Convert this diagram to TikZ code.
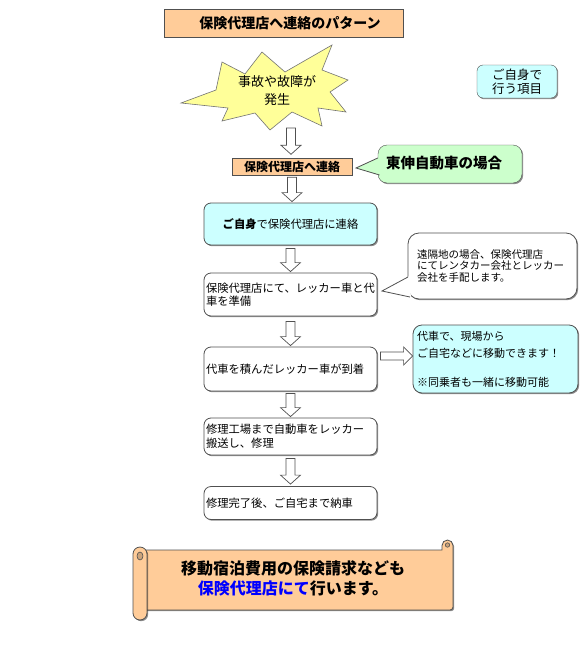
\documentclass[tikz,border=0pt]{standalone}
\usepackage{fontspec}
\setmainfont{Noto Sans CJK JP}
\usetikzlibrary{calc,shadows}
\definecolor{peach}{HTML}{FFCC99}
\definecolor{paleyellow}{HTML}{FFFF99}
\definecolor{lcyan}{HTML}{CCFFFF}
\definecolor{lgreen}{HTML}{CCFFCC}
\definecolor{edge}{HTML}{505050}
\definecolor{linkblue}{HTML}{0000FF}
\tikzset{
  shade1/.style={drop shadow={shadow xshift=1.2pt,shadow yshift=-1.2pt,fill=black,opacity=0.45}},
  flowbox/.style={draw=edge, line width=0.8pt, rounded corners=7pt, fill=white, shade1,
    inner xsep=2pt, inner ysep=0pt, text width=169pt, align=left,
    font=\fontsize{11.3}{13}\selectfont},
  downblock/.style={draw=edge, fill=white, line width=0.7pt, to path={
    let \p1=(\tikztostart), \p2=(\tikztotarget) in
    (\x1-4.5pt,\y1) -- (\x1+4.5pt,\y1) -- (\x1+4.5pt,\y2+9pt) -- (\x1+10pt,\y2+9pt)
    -- (\x1,\y2) -- (\x1-10pt,\y2+9pt) -- (\x1-4.5pt,\y2+9pt) -- cycle}},
  rightblock/.style={draw=edge, fill=white, line width=0.7pt, to path={
    let \p1=(\tikztostart), \p2=(\tikztotarget) in
    (\x1,\y1+4pt) -- (\x2-9pt,\y1+4pt) -- (\x2-9pt,\y1+9pt) -- (\x2,\y1)
    -- (\x2-9pt,\y1-9pt) -- (\x2-9pt,\y1-4pt) -- (\x1,\y1-4pt) -- cycle}},
}
\begin{document}
\begin{tikzpicture}[x=1pt,y=-1pt]
\useasboundingbox (0,0) rectangle (582,656);
\fill[white] (0,0) rectangle (582,656);

% title
\node[draw=edge, line width=0.9pt, fill=peach, shade1, minimum width=239pt, minimum height=28pt,
  inner sep=0pt] (title) at (283.5,23) {};
\node[font=\bfseries\fontsize{14}{16}\selectfont] (titletext) at (290,23) {保険代理店へ連絡のパターン};

% explosion
\filldraw[fill=paleyellow, draw=edge!80, line width=0.6pt]
  (181,103) -- (216,90) -- (222,62) -- (245,74) -- (262,52) -- (285,72) -- (332,45)
  -- (322,70) -- (348,80) -- (330,92) -- (346,112) -- (318,108) -- (322,126)
  -- (292,112) -- (270,130) -- (255,113) -- (222,121) -- (228,108) -- cycle;
\node[align=center, font=\fontsize{13}{18}\selectfont] (star) at (277,91) {事故や故障が\\発生};

% legend box
\node[draw=edge, fill=lcyan, rounded corners=6pt, shade1, minimum width=80pt, minimum height=33pt,
  align=center, inner sep=0pt, font=\fontsize{12.5}{14}\selectfont] (self) at (517,81.5) {ご自身で\\行う項目};

% small peach box
\node[draw=edge, fill=peach, shade1, minimum width=120pt, minimum height=17pt, inner sep=0pt,
  font=\bfseries\fontsize{12}{14}\selectfont] (s) at (292,166.5) {保険代理店へ連絡};

% green callout
\node[draw=edge, fill=lgreen, rounded corners=9pt, shade1, minimum width=144pt, minimum height=38pt] (g) at (450,164) {};
\fill[lgreen] (380,157) -- (356,168) -- (382,176) -- cycle;
\draw[edge, line width=0.8pt] (378,157.9) -- (356,168) -- (379.5,175);
\node[font=\bfseries\fontsize{14.5}{16}\selectfont] (gtext) at (444,163) {東伸自動車の場合};

% flow boxes
\node[flowbox, fill=lcyan, align=center, minimum height=42pt] (b1) at (290.5,224) {{\bfseries ご自身}で保険代理店に連絡};
\node[flowbox, minimum height=43pt, font=\fontsize{11.3}{12.5}\selectfont] (b2) at (290.5,294.5) {保険代理店にて、レッカー車と代\\車を準備};
\node[flowbox, minimum height=44pt] (b3) at (290.5,369) {代車を積んだレッカー車が到着};
\node[flowbox, minimum height=37pt, font=\fontsize{11.3}{14}\selectfont] (b4) at (290.5,436.5) {修理工場まで自動車をレッカー\\搬送し、修理};
\node[flowbox, minimum height=33pt] (b5) at (290.5,503) {修理完了後、ご自宅まで納車};

% white callout
\node[draw=edge, line width=0.8pt, fill=white, rounded corners=11pt, shade1, minimum width=169pt, minimum height=66pt,
  text width=151pt, inner xsep=9pt, align=left, font=\fontsize{10.5}{11.8}\selectfont] (r) at (492.5,266)
  {遠隔地の場合、保険代理店\\にてレンタカー会社とレッカー\\会社を手配します。};
\fill[white] (409.5,276) -- (382,291) -- (411,298) -- cycle;
\draw[edge, line width=0.8pt] (408,277) -- (382,291) -- (410,297);

% cyan callout
\node[draw=edge, line width=0.8pt, fill=lcyan, rounded corners=9pt, shade1, minimum width=165pt, minimum height=68pt,
  text width=157pt, inner xsep=4pt, align=left, font=\fontsize{11}{17.3}\selectfont] (c) at (495.5,359)
  {代車で、現場から\\ご自宅などに移動できます！\\[11.4pt]※同乗者も一緒に移動可能};

% arrows
\coordinate (starbot) at (291,128);
\draw[downblock] (starbot) to ([yshift=3.5pt]s.north);
\draw[downblock] ([yshift=-2pt]s.south) to ([yshift=1pt]b1.north);
\draw[downblock] ([yshift=-3pt]b1.south) to ([yshift=1pt]b2.north);
\draw[downblock] ([yshift=-5pt]b2.south) to ([yshift=1pt]b3.north);
\draw[downblock] ([yshift=-2pt]b3.south) to ([yshift=1pt]b4.north);
\draw[downblock] ([yshift=-3pt]b4.south) to ([yshift=2pt]b5.north);
\coordinate (ra1) at ([xshift=3pt,yshift=13pt]b3.east);
\draw[rightblock] (ra1) to (ra1 -| c.west);

% scroll
\filldraw[fill=peach, draw=edge, line width=0.8pt, shade1]
  (140,550) -- (442,550) -- (442,545.5) arc[start angle=180,end angle=360,radius=5.5]
  -- (453,607) arc[start angle=0,end angle=90,radius=3] -- (140,610) -- cycle;
\filldraw[fill=peach!80!black, draw=edge, line width=0.6pt] (447.5,545) circle (2.2);
\filldraw[fill=peach, draw=edge, line width=0.8pt, shade1]
  (133,554) arc[start angle=180,end angle=360,radius=7] -- (147,613)
  arc[start angle=0,end angle=180,radius=7] -- cycle;
\filldraw[fill=peach!80!black, draw=edge, line width=0.6pt] (140,556) ellipse [x radius=3, y radius=4];
\node[align=center, font=\bfseries\fontsize{16}{20}\selectfont] (scrolltext) at (293,578)
  {移動宿泊費用の保険請求なども\\{\color{linkblue}保険代理店にて}行います。};
\end{tikzpicture}
\end{document}
